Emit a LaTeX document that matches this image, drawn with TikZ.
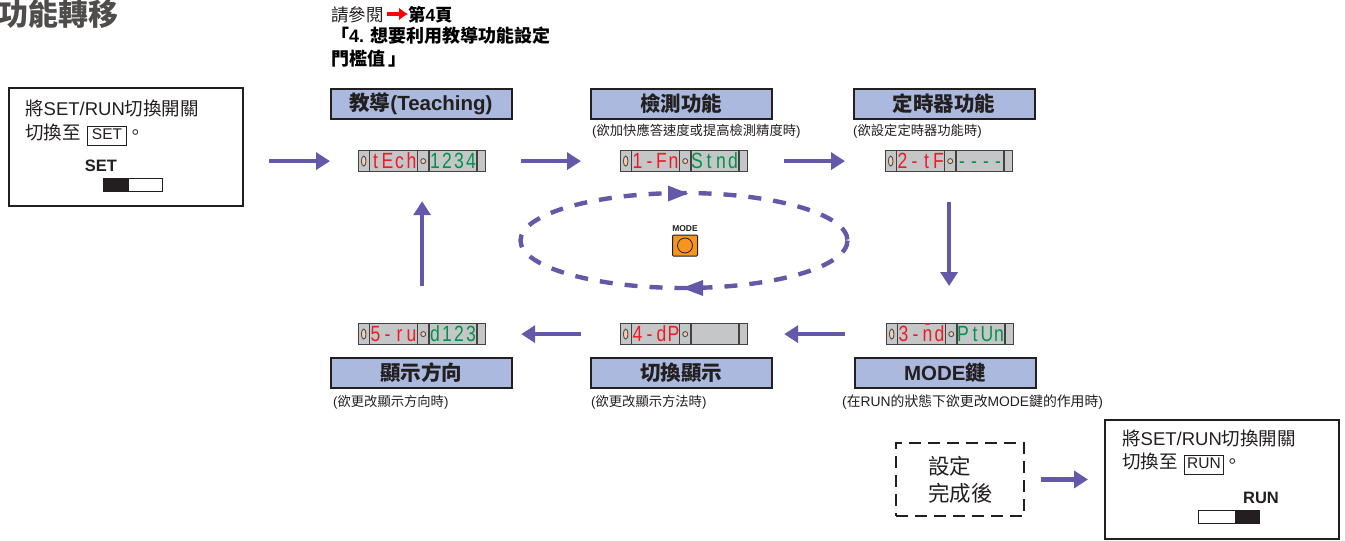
\documentclass[tikz,border=0pt]{standalone}
\usepackage{fontspec}
\setmainfont{Liberation Sans}
\newfontfamily\cjk{Noto Sans CJK TC}
\newfontfamily\ledfont[FakeStretch=0.8]{Liberation Sans}
\usetikzlibrary{arrows.meta,calc,positioning}
\definecolor{flow}{HTML}{6459A8}
\definecolor{hdr}{HTML}{AAB9DD}
\definecolor{ledbg}{HTML}{C5C6C8}
\definecolor{lamp}{HTML}{F7CFB0}
\definecolor{ledred}{HTML}{ED1C24}
\definecolor{ledgreen}{HTML}{00934A}
\definecolor{ink}{HTML}{231F20}
\definecolor{modeorange}{HTML}{F7941D}
\newcommand{\lat}[1]{{\rmfamily #1}}
\newcommand{\ledcell}[4]{\makebox[12pt]{#1}\makebox[12pt]{#2}\makebox[12pt]{#3}\makebox[12pt]{#4}}
\newcommand{\keycap}[1]{\hspace{6.5pt}{\fboxsep=1.5pt\fboxrule=.8pt\fbox{\rule[-3.5pt]{0pt}{15.5pt}\makebox[35pt]{\rmfamily\fontsize{15.5}{16}\selectfont #1}}}}
\tikzset{
  x=1pt,y=-1pt,
  hdrbox/.style={draw=ink,line width=2pt,fill=hdr,minimum width=181pt,minimum height=30pt,inner sep=0pt,font=\cjk\bfseries\fontsize{20.5}{22}\selectfont,text=ink},
  note/.style={anchor=west,inner sep=0pt,font=\cjk\fontsize{13.3}{15}\selectfont,text=ink},
  body/.style={anchor=west,inner sep=0pt,font=\cjk\fontsize{18.5}{20}\selectfont,text=ink},
  infobox/.style={draw=ink,line width=2pt,fill=white,inner sep=0pt,anchor=north west},
  flowarrow/.style={draw=flow,line width=4.2pt,-{Triangle[length=14pt,width=17pt]}},
  ledpanel/.style={draw=ink!85,line width=1.2pt,fill=ledbg,minimum width=127pt,minimum height=21pt,inner sep=0pt,anchor=north west},
  ledred/.style={inner sep=0pt,text height=15.5pt,text depth=0pt,font=\ledfont\fontsize{22}{22}\selectfont,text=ledred},
  ledgreen/.style={inner sep=0pt,text height=15.5pt,text depth=0pt,font=\ledfont\fontsize{22}{22}\selectfont,text=ledgreen},
  swlabel/.style={inner sep=0pt,font=\rmfamily\bfseries\fontsize{16.5}{18}\selectfont,text=ink},
}
\newcommand{\leddisplay}[4]{%
  \node[ledpanel] (#1) at (#2) {};
  \draw[ink!85,line width=1.2pt] ($(#1.north west)+(11.5,0)$) -- ($(#1.south west)+(11.5,0)$)
    ($(#1.north west)+(59.5,0)$) -- ($(#1.south west)+(59.5,0)$)
    ($(#1.north west)+(71,0)$) -- ($(#1.south west)+(71,0)$)
    ($(#1.north west)+(119,0)$) -- ($(#1.south west)+(119,0)$);
  \draw[ink!80,fill=lamp,line width=.9pt] ($(#1.west)+(5.7,0)$) ellipse [x radius=2.3,y radius=5];
  \draw[ink!80,fill=lamp,line width=.9pt] ($(#1.west)+(65.2,0)$) circle [radius=2.5];
  \node[ledred] at ($(#1.west)+(35.5,0)$) {#3};
  \if\relax\detokenize{#4}\relax\else
  \node[ledgreen] at ($(#1.west)+(95,0)$) {#4};
  \fi
}
\begin{document}
\begin{tikzpicture}
\useasboundingbox (0,0) rectangle (1345,541);
\clip (0,0) rectangle (1345,541);

% title
\node[anchor=west,inner sep=0pt,font=\cjk\bfseries\fontsize{30}{32}\selectfont,text=ink!80] (title) at (-2,14) {功能轉移};

% reference note
\node[anchor=west,inner sep=0pt,font=\cjk\fontsize{17.5}{19}\selectfont,text=ink] (ref1) at (331,15) {請參閱};
\coordinate (refA) at (387,14);
\coordinate (refB) at (408,14);
\draw[draw=red,line width=3.6pt,-{Latex[length=9pt,width=13pt]}] (refA) -- (refB);
\node[anchor=west,inner sep=0pt,font=\cjk\bfseries\fontsize{17.5}{19}\selectfont,text=black] (ref2) at (408,15) {第\lat{\bfseries 4}頁};
\node[anchor=west,inner sep=0pt,font=\cjk\bfseries\fontsize{18}{20}\selectfont,text=black] (ref3) at (331,36) {「\lat{\bfseries 4. }想要利用教導功能設定};
\node[anchor=west,inner sep=0pt,font=\cjk\bfseries\fontsize{18}{20}\selectfont,text=black] (ref4) at (331,59) {門檻值\hspace{3pt}」};

% left switch box
\node[infobox,minimum width=234pt,minimum height=118pt] (setbox) at (8,87) {};
\node[body] (set1) at (25,108) {將\lat{SET/RUN}切換開關};
\node[body] (set2) at (25,135) {切換至\keycap{SET}。};
\node[swlabel] (setlabel) at (101,166) {SET};
\node[draw=ink,line width=.9pt,fill=white,minimum width=59pt,minimum height=13pt,inner sep=0pt,anchor=north west] (setsw) at (103,178) {};
\fill[ink] (setsw.north west) rectangle ($(setsw.south west)+(26,0)$);

% headers
\node[hdrbox] (h1) at (421,103.5) {教導\lat{\bfseries (Teaching)}};
\node[hdrbox] (h2) at (681,103.5) {檢測功能};
\node[hdrbox] (h3) at (944,103.5) {定時器功能};
\node[hdrbox] (h4) at (945,372.5) {\lat{\bfseries MODE}鍵};
\node[hdrbox] (h5) at (681,372.5) {切換顯示};
\node[hdrbox] (h6) at (421,372.5) {顯示方向};

% notes
\node[note] (n2) at (592,131) {\lat{(}欲加快應答速度或提高檢測精度時\lat{)}};
\node[note] (n3) at (853,131) {\lat{(}欲設定定時器功能時\lat{)}};
\node[note,font=\cjk\fontsize{13.85}{15}\selectfont] (n4) at (842,402) {\lat{(}在\lat{RUN}的狀態下欲更改\lat{MODE}鍵的作用時\lat{)}};
\node[note] (n5) at (591,402) {\lat{(}欲更改顯示方法時\lat{)}};
\node[note] (n6) at (333,402) {\lat{(}欲更改顯示方向時\lat{)}};

% displays
\leddisplay{d1}{358,150}{\ledcell{t}{E}{c}{h}}{\ledcell{1}{2}{3}{4}}
\leddisplay{d2}{620,150}{\ledcell{1}{-}{F}{n}}{\ledcell{S}{t}{n}{d}}
\leddisplay{d3}{885,150}{\ledcell{2}{-}{t}{F}}{\ledcell{-}{-}{-}{-}}
\leddisplay{d4}{886,323}{\ledcell{3}{-}{\=n}{d}}{\ledcell{P}{t}{U}{n}}
\leddisplay{d5}{620,323}{\ledcell{4}{-}{d}{P}}{}
\leddisplay{d6}{358,323}{\ledcell{5}{-}{r}{u}}{\ledcell{d}{1}{2}{3}}

% flow arrows
\draw[flowarrow,shorten <=25pt,shorten >=28pt] (setbox.east |- d1.west) -- (d1.west);
\draw[flowarrow,shorten <=35pt,shorten >=39pt] (d1.east) -- (d2.west);
\draw[flowarrow,shorten <=36pt,shorten >=40pt] (d2.east) -- (d3.west);
\draw[flowarrow,shorten <=30pt,shorten >=37pt,xshift=1.2pt] (d3.south) -- (d3.south |- d4.north);
\draw[flowarrow,shorten <=41pt,shorten >=36pt] (d4.west) -- (d5.east);
\draw[flowarrow,shorten <=39pt,shorten >=35pt] (d5.west) -- (d6.east);
\draw[flowarrow,shorten <=37pt,shorten >=29pt] (d6.north) -- (d6.north |- d1.south);

% mode cycle
\coordinate (cyc) at (684,240.5);
\draw[draw=flow,line width=4.4pt,dash pattern=on 13pt off 12pt] (cyc) ellipse [x radius=163.5,y radius=47.5];
\coordinate (cycT) at (688,193.5);
\coordinate (cycB) at (682,288);
\fill[flow] (cycT) -- ++(-20,-8) -- ++(0,16) -- cycle;
\fill[flow] (cycB) -- ++(21,-8) -- ++(0,16) -- cycle;
\node[draw=ink,line width=1pt,fill=modeorange,rounded corners=1pt,minimum width=25pt,minimum height=21pt,inner sep=0pt] (modebtn) at (685,245.5) {};
\draw[ink,line width=.8pt] (modebtn.center) circle [radius=7.5];
\node[inner sep=0pt,font=\rmfamily\bfseries\fontsize{8.5}{9}\selectfont,text=ink,above=2.5pt of modebtn] (modelabel) {MODE};

% finish
\node[draw=ink,line width=1.5pt,dash pattern=on 12pt off 7pt,fill=white,minimum width=128pt,minimum height=73pt,inner sep=0pt,anchor=north west] (done) at (895.2,442.2) {};
\node[inner sep=0pt,anchor=west,font=\cjk\fontsize{21.5}{23}\selectfont,text=ink] (done1) at (928,466) {設定};
\node[inner sep=0pt,anchor=west,font=\cjk\fontsize{21.5}{23}\selectfont,text=ink] (done2) at (928,493) {完成後};

\node[infobox,minimum width=234pt,minimum height=119pt] (runbox) at (1104,419) {};
\node[body] (run1) at (1122,438) {將\lat{SET/RUN}切換開關};
\node[body] (run2) at (1122,464) {切換至\keycap{RUN}。};
\node[swlabel] (runlabel) at (1261,498) {RUN};
\node[draw=ink,line width=.9pt,fill=white,minimum width=61pt,minimum height=13pt,inner sep=0pt,anchor=north west] (runsw) at (1198,510) {};
\fill[ink] ($(runsw.north east)+(-25,0)$) rectangle (runsw.south east);
\draw[flowarrow,shorten <=16pt,shorten >=16pt] (done.east) -- (done.east -| runbox.west);
\end{tikzpicture}
\end{document}
